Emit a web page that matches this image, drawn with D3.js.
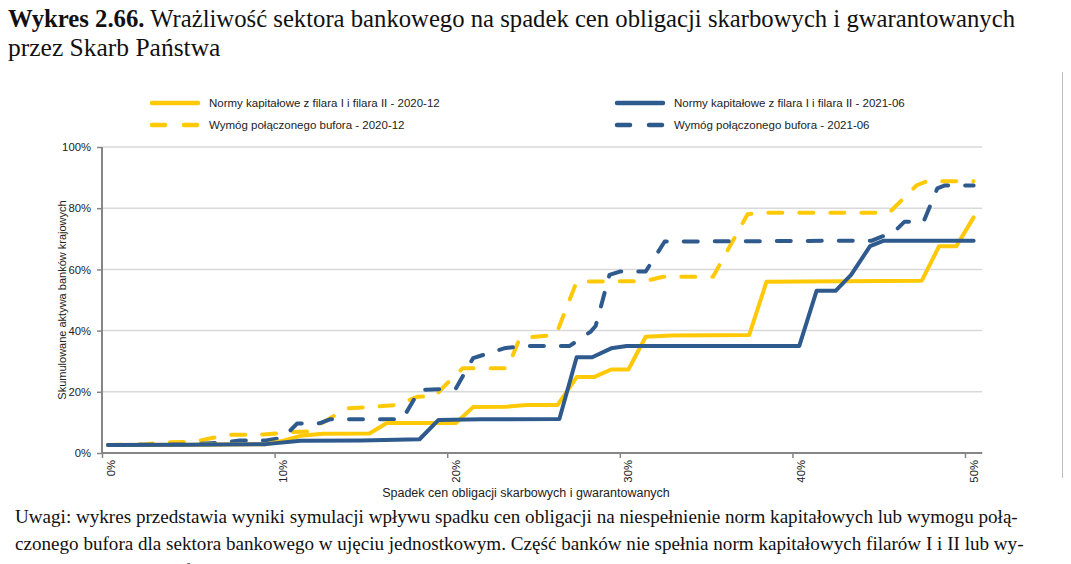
<!DOCTYPE html>
<html>
<head>
<meta charset="utf-8">
<script src="https://cdn.jsdelivr.net/npm/d3@7"></script>
<style>
  html, body { margin: 0; padding: 0; background: #fff; }
  svg { display: block; }
</style>
</head>
<body>
<script>
// ---------- DATA ----------
const xTicks = [0, 10, 20, 30, 40, 50];
const yTicks = [0, 20, 40, 60, 80, 100];

const seriesNames = [
  "Normy kapitałowe z filara I i filara II - 2020-12",
  "Wymóg połączonego bufora - 2020-12",
  "Normy kapitałowe z filara I i filara II - 2021-06",
  "Wymóg połączonego bufora - 2021-06"
];

// x: spadek cen obligacji (%), y: skumulowane aktywa (%)
const normy2012X = [0.35, 5, 9.5, 10.5, 11.5, 12.8, 15.5, 16.5, 20.5, 21.5, 23.4, 24.6, 26.4, 27.5, 28.5, 29.5, 30.5, 31.5, 33, 37.5, 38.5, 47.5, 48.5, 49.5, 50.5];
const normy2012Y = [2.6, 2.7, 2.9, 4.0, 5.6, 6.3, 6.4, 9.8, 9.8, 15.0, 15.1, 15.7, 15.7, 24.8, 24.8, 27.3, 27.3, 38.0, 38.4, 38.6, 56.0, 56.3, 67.6, 67.6, 77.0];

const bufor2012X = [0.35, 2.5, 3.5, 5.3, 6.1, 7.2, 9.5, 10.9, 11.9, 14.2, 15.5, 17.1, 18.3, 19.3, 20.0, 20.9, 23.5, 24.2, 26.3, 27.5, 31.5, 32.5, 35.4, 37.4, 38.0, 45.6, 47.2, 47.8, 50.5];
const bufor2012Y = [2.6, 2.8, 3.5, 3.6, 4.6, 5.9, 6.1, 6.8, 7.0, 14.6, 15.0, 15.7, 18.4, 18.7, 22.8, 27.7, 27.7, 37.5, 38.6, 56.0, 56.2, 57.6, 57.6, 78.0, 78.5, 78.5, 87.5, 88.8, 88.8];

const normy2106X = [0.35, 5, 9.5, 11.5, 15, 18.4, 19.5, 22, 26.5, 27.5, 28.4, 29.5, 30.4, 35, 40.4, 41.4, 42.5, 43.4, 44.5, 45.3, 50.5];
const normy2106Y = [2.6, 2.7, 2.9, 4.0, 4.1, 4.5, 10.8, 11.0, 11.1, 31.3, 31.3, 34.2, 35.0, 35.0, 35.0, 53.0, 53.0, 58.2, 67.6, 69.4, 69.4];

const bufor2106X = [0.35, 5, 7.2, 8, 9.5, 10.5, 11.3, 12.6, 13.2, 17.4, 18.4, 20.5, 21.5, 23.3, 24.4, 27.1, 28.3, 28.6, 29.4, 30.0, 31.5, 32.6, 44.6, 45.9, 46.5, 47.6, 48.4, 48.8, 50.5];
const bufor2106Y = [2.6, 2.8, 3.5, 4.1, 4.1, 5.0, 9.6, 9.7, 11.0, 11.0, 20.6, 21.1, 31.0, 34.2, 35.0, 35.0, 39.6, 41.5, 58.2, 59.3, 59.3, 69.1, 69.4, 72.3, 75.6, 75.6, 86.5, 87.4, 87.4];

const titleBold = "Wykres 2.66.";
const titleRest = " Wrażliwość sektora bankowego na spadek cen obligacji skarbowych i gwarantowanych";
const titleLine2 = "przez Skarb Państwa";
const xAxisTitle = "Spadek cen obligacji skarbowych i gwarantowanych";
const yAxisTitle = "Skumulowane aktywa banków krajowych";
const noteLines = [
  "Uwagi: wykres przedstawia wyniki symulacji wpływu spadku cen obligacji na niespełnienie norm kapitałowych lub wymogu połą-",
  "czonego bufora dla sektora bankowego w ujęciu jednostkowym. Część banków nie spełnia norm kapitałowych filarów I i II lub wy-",
  "mogu połączonego bufora nawet bez spadku cen obligacji."
];

// ---------- STYLE ----------
const YELLOW = "#FFC907";
const BLUE = "#2F5A8D";
const chartFont = "'Liberation Sans', Arial, sans-serif";
const serifFont = "'Liberation Serif', 'DejaVu Serif', serif";

const W = 1071, H = 564;
const svg = d3.select("body").append("svg").attr("width", W).attr("height", H);

// scales
const x = d3.scaleLinear().domain([0, 50]).range([102, 965]);
const y = d3.scaleLinear().domain([0, 100]).range([453, 147]);
const xMax = 51;

// ---------- TITLE ----------
const t1 = svg.append("text").attr("x", 8).attr("y", 27)
  .attr("font-family", serifFont).attr("font-size", 24.7).attr("fill", "#111");
t1.append("tspan").attr("font-weight", "bold").text(titleBold);
t1.append("tspan").text(titleRest);
svg.append("text").attr("x", 8).attr("y", 56)
  .attr("font-family", serifFont).attr("font-size", 25.5).attr("fill", "#111")
  .text(titleLine2);

// ---------- GRID ----------
svg.append("g").selectAll("line").data(yTicks.filter(d => d > 0)).join("line")
  .attr("x1", x(0)).attr("x2", x(xMax))
  .attr("y1", d => y(d)).attr("y2", d => y(d))
  .attr("stroke", "#D9D9D9").attr("stroke-width", 1.5);

// ---------- AXES ----------
const yAxis = d3.axisLeft(y).tickValues(yTicks).tickFormat(d => d + "%").tickSize(5).tickPadding(6);
const gy = svg.append("g").attr("transform", `translate(${x(0)},0)`).call(yAxis);
gy.select(".domain").remove();
gy.selectAll(".tick line").attr("stroke", "#868686").attr("stroke-width", 1.5);
gy.selectAll(".tick text").attr("font-family", chartFont).attr("font-size", 11.3).attr("fill", "#222");
svg.append("line").attr("x1", x(0)).attr("x2", x(0)).attr("y1", y(0) + 1).attr("y2", y(100))
  .attr("stroke", "#868686").attr("stroke-width", 2);

const xAxis = d3.axisBottom(x).tickValues(xTicks).tickFormat(d => d + "%").tickSize(5);
const gx = svg.append("g").attr("transform", `translate(0,${y(0)})`).call(xAxis);
gx.select(".domain").remove();
gx.selectAll(".tick line").attr("stroke", "#868686").attr("stroke-width", 1.5);
gx.selectAll(".tick text")
  .attr("font-family", chartFont).attr("font-size", 11.3).attr("fill", "#222")
  .attr("text-anchor", "end").attr("dy", null).attr("y", 0)
  .attr("transform", "translate(12,7) rotate(-90)");
svg.append("line").attr("x1", x(0) - 1).attr("x2", x(xMax)).attr("y1", y(0)).attr("y2", y(0))
  .attr("stroke", "#868686").attr("stroke-width", 2);

// axis titles
svg.append("text").attr("x", 526).attr("y", 497)
  .attr("text-anchor", "middle").attr("font-family", chartFont).attr("font-size", 12.5).attr("fill", "#222")
  .text(xAxisTitle);
svg.append("text").attr("transform", `translate(66,${y(50)}) rotate(-90)`)
  .attr("text-anchor", "middle").attr("font-family", chartFont).attr("font-size", 11).attr("fill", "#222")
  .text(yAxisTitle);

// ---------- LINES ----------
const zip = (xs, ys) => xs.map((v, i) => [v, ys[i]]);
const series = [
  { data: zip(normy2012X, normy2012Y), color: YELLOW, dash: null },
  { data: zip(bufor2012X, bufor2012Y), color: YELLOW, dash: "14,17" },
  { data: zip(normy2106X, normy2106Y), color: BLUE, dash: null },
  { data: zip(bufor2106X, bufor2106Y), color: BLUE, dash: "14,17" }
];
const line = d3.line().x(d => x(d[0])).y(d => y(d[1]));
const drawOrder = [1, 3, 0, 2];
svg.append("g").selectAll("path").data(drawOrder.map(i => series[i])).join("path")
  .attr("d", d => line(d.data))
  .attr("fill", "none")
  .attr("stroke", d => d.color)
  .attr("stroke-width", 4)
  .attr("stroke-linejoin", "round")
  .attr("stroke-linecap", "round")
  .attr("stroke-dasharray", d => d.dash);

// ---------- LEGEND ----------
const legendPos = [
  { lx: 150, ly: 103 },
  { lx: 150, ly: 125 },
  { lx: 615, ly: 103 },
  { lx: 615, ly: 125 }
];
const lg = svg.append("g");
series.forEach((s, i) => {
  const p = legendPos[i];
  lg.append("line").attr("x1", p.lx + 2).attr("x2", p.lx + 48)
    .attr("y1", p.ly).attr("y2", p.ly)
    .attr("stroke", s.color).attr("stroke-width", 4.5).attr("stroke-linecap", "round")
    .attr("stroke-dasharray", s.dash ? "13,19" : null);
  lg.append("text").attr("x", p.lx + 59).attr("y", p.ly + 4)
    .attr("font-family", chartFont).attr("font-size", 11.5).attr("fill", "#222")
    .text(seriesNames[i]);
});

// right frame line
svg.append("line").attr("x1", 1062.5).attr("x2", 1062.5).attr("y1", 72).attr("y2", 478)
  .attr("stroke", "#BDBDBD").attr("stroke-width", 1);

// ---------- NOTES ----------
noteLines.forEach((t, i) => {
  svg.append("text").attr("x", 15).attr("y", 523 + i * 27)
    .attr("font-family", serifFont).attr("font-size", 19.1).attr("fill", "#111")
    .text(t);
});
</script>
</body>
</html>
